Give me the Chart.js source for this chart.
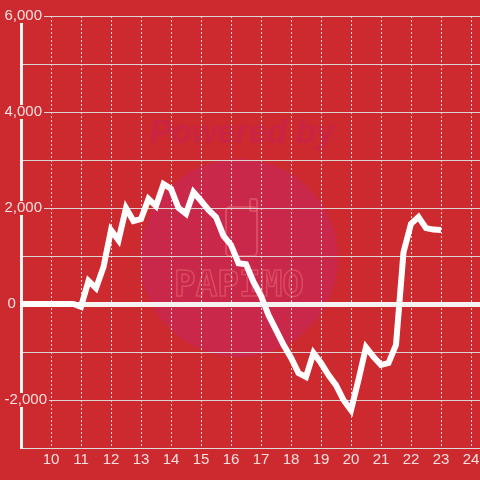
<!DOCTYPE html>
<html>
<head>
<meta charset="utf-8">
<script src="https://cdn.jsdelivr.net/npm/chart.js@4.4.1/dist/chart.umd.min.js"></script>
<style>
  html, body { margin: 0; padding: 0; background: #cd2a2f; }
  #wrap { width: 480px; height: 480px; position: relative; }
</style>
</head>
<body>
<div id="wrap"><canvas id="chart"></canvas></div>
<script>
// hores (cada 15 minuts) i valors llegits del grafic
const HORES = [
  '9:00', '9:15', '9:30', '9:45', '10:00', '10:15', '10:30', '10:45',
  '11:00', '11:15', '11:30', '11:45', '12:00', '12:15', '12:30', '12:45',
  '13:00', '13:15', '13:30', '13:45', '14:00', '14:15', '14:30', '14:45',
  '15:00', '15:15', '15:30', '15:45', '16:00', '16:15', '16:30', '16:45',
  '17:00', '17:15', '17:30', '17:45', '18:00', '18:15', '18:30', '18:45',
  '19:00', '19:15', '19:30', '19:45', '20:00', '20:15', '20:30', '20:45',
  '21:00', '21:15', '21:30', '21:45', '22:00', '22:15', '22:30', '22:45',
  '23:00'
];
const VALORS = [
  0, 0, 0, 0, 0, 0, 0, 0,
  -60, 480, 330, 770, 1540, 1330, 2000, 1730,
  1770, 2190, 2040, 2500, 2400, 2000, 1880, 2330,
  2150, 1960, 1810, 1420, 1230, 850, 830, 460,
  170, -230, -540, -850, -1120, -1440, -1520, -1020,
  -1230, -1480, -1690, -2000, -2210, -1580, -900, -1100,
  -1270, -1230, -850, 1080, 1670, 1810, 1580, 1550,
  1540
];
const X_TICKS = [10, 11, 12, 13, 14, 15, 16, 17, 18, 19, 20, 21, 22, 23, 24];
const Y_TICKS = [-3000, -2000, -1000, 0, 1000, 2000, 3000, 4000, 5000, 6000];
const Y_LABELS = [-2000, 2000, 4000, 6000];
const ZERO_LABEL = [0];

const FONS = '#cd2a2f';
const TEXT = 'rgba(255,255,255,0.85)';
const GRID = 'rgba(222,218,218,0.95)';
const BLANC = '#f7f2f2';
const FONT = { family: "'Liberation Sans', Arial, sans-serif", size: 15 };

function aHores(hora) {
  const [h, m] = hora.split(':').map(Number);
  return h + m / 60;
}

const punts = VALORS.map((v, i) => ({ x: aHores(HORES[i]), y: v }));

// fons vermell i marca d'aigua
const fonsPlugin = {
  id: 'fons',
  beforeDraw(chart) {
    const { ctx, width, height } = chart;
    ctx.save();
    ctx.fillStyle = FONS;
    ctx.fillRect(0, 0, width, height);

    ctx.fillStyle = '#c9284a';
    ctx.beginPath();
    ctx.arc(239, 258, 99, 0, Math.PI * 2);
    ctx.fill();

    ctx.textAlign = 'center';
    ctx.textBaseline = 'middle';
    ctx.font = "italic bold 33px 'Liberation Sans', sans-serif";
    ctx.fillStyle = '#c92444';
    ctx.fillText('Powered by', 242, 134);

    ctx.strokeStyle = 'rgba(236,110,120,0.5)';
    ctx.lineWidth = 2;
    ctx.beginPath();
    ctx.roundRect(226, 207, 31, 49, 4);
    ctx.stroke();
    ctx.beginPath();
    ctx.roundRect(250, 199, 7, 12, 2);
    ctx.stroke();

    ctx.lineWidth = 1.5;
    ctx.font = "bold 36px 'DejaVu Sans Mono', monospace";
    ctx.strokeText('PAPIMO', 239, 287);
    ctx.restore();
  }
};

const canvas = document.getElementById('chart');

new Chart(canvas.getContext('2d'), {
  type: 'line',
  data: {
    datasets: [{
      data: punts,
      borderColor: '#ffffff',
      borderWidth: 6,
      pointRadius: 0,
      tension: 0,
      fill: false,
      xAxisID: 'x',
      yAxisID: 'y'
    }]
  },
  options: {
    responsive: true,
    maintainAspectRatio: false,
    animation: false,
    layout: { padding: { top: 16, right: 0, bottom: 0, left: 0 } },
    plugins: {
      legend: { display: false },
      tooltip: { enabled: false }
    },
    scales: {
      x: {
        type: 'linear',
        position: 'bottom',
        min: 9,
        max: 24.3,
        afterBuildTicks: (axis) => { axis.ticks = X_TICKS.map((v) => ({ value: v })); },
        afterFit: (axis) => { axis.height = 32; axis.paddingLeft = 0; axis.paddingRight = 0; },
        grid: { color: 'rgba(255,255,255,0.85)', lineWidth: 1, drawTicks: false },
        border: { display: true, color: GRID, width: 1, dash: [2, 2] },
        ticks: { color: TEXT, font: FONT, padding: 3, maxRotation: 0, autoSkip: false }
      },
      y: {
        type: 'linear',
        position: 'left',
        weight: 1,
        min: -3000,
        max: 6000,
        afterBuildTicks: (axis) => { axis.ticks = Y_TICKS.map((v) => ({ value: v })); },
        afterFit: (axis) => { axis.width = 21; axis.paddingTop = 0; axis.paddingBottom = 0; },
        grid: {
          color: (c) => (c.tick?.value === 0 ? BLANC : GRID),
          lineWidth: (c) => (c.tick?.value === 0 ? 5 : 1),
          drawTicks: false
        },
        border: { display: true, color: BLANC, width: 3 },
        ticks: {
          mirror: true,
          padding: -16.5,
          color: TEXT,
          font: FONT,
          callback: (v) => (Y_LABELS.includes(v) ? v.toLocaleString('en-US') : ''),
          showLabelBackdrop: (c) => Y_LABELS.includes(c.tick?.value),
          backdropColor: FONS,
          backdropPadding: { top: -2, bottom: -2, left: 2, right: 2 }
        }
      },
      yz: {
        type: 'linear',
        position: 'left',
        weight: 0,
        min: -3000,
        max: 6000,
        afterBuildTicks: (axis) => { axis.ticks = ZERO_LABEL.map((v) => ({ value: v })); },
        afterFit: (axis) => { axis.width = 0; axis.paddingTop = 0; axis.paddingBottom = 0; },
        grid: { display: false },
        border: { display: false },
        ticks: { mirror: true, padding: -13.5, color: TEXT, font: FONT }
      }
    }
  },
  plugins: [fonsPlugin]
});
</script>
</body>
</html>
